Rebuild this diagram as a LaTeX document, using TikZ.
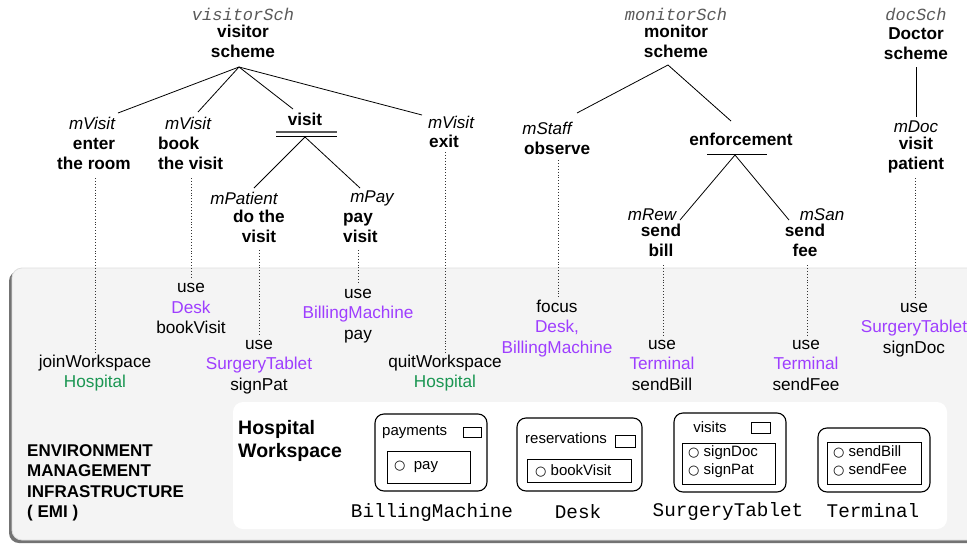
\documentclass[tikz,border=0pt]{standalone}
\usepackage{fontspec}
\setmainfont{Liberation Sans}
\setmonofont{Liberation Mono}
\newfontfamily\symf{DejaVu Sans}
\definecolor{artc}{RGB}{158,62,255}
\definecolor{wsc}{RGB}{26,150,82}
\definecolor{emibg}{RGB}{244,244,244}
\definecolor{emibd}{RGB}{222,222,222}
\definecolor{schc}{RGB}{90,90,90}
\newcommand\cir{{\symf\fontsize{13}{12}\selectfont ○}}
\newcommand\art[1]{\textcolor{artc}{#1}}
\newcommand\wsp[1]{\textcolor{wsc}{#1}}
\tikzset{
  goal/.style={font=\fontsize{17.2}{20}\selectfont\bfseries, align=center, inner sep=0pt},
  goall/.style={goal, align=left},
  mis/.style={font=\fontsize{17}{20}\selectfont\itshape, inner sep=0pt},
  sch/.style={font=\fontsize{17}{20}\selectfont\ttfamily\itshape, text=schc, inner sep=0pt},
  act/.style={font=\fontsize{17.2}{20.5}\selectfont, align=center, inner sep=0pt},
  emit/.style={font=\fontsize{17}{20.5}\selectfont\bfseries, align=left, inner sep=0pt},
  wst/.style={font=\fontsize{19.5}{23}\selectfont\bfseries, align=left, inner sep=0pt},
  artn/.style={font=\fontsize{19.3}{22}\selectfont\ttfamily, inner sep=0pt},
  itm/.style={font=\fontsize{15}{18}\selectfont, align=left, inner sep=0pt},
  tree/.style={line width=0.8pt, black},
  dots/.style={line width=0.9pt, dotted, black!80},
  artbox/.style={draw=black, line width=1.1pt, rounded corners=9pt},
  opbox/.style={draw=black, line width=1pt},
  propbox/.style={draw=black, line width=0.9pt},
}
\begin{document}
\begin{tikzpicture}[x=1pt,y=-1pt]
\useasboundingbox (0,0) rectangle (967,544);
\fill[white] (0,0) rectangle (967,544);
% EMI background
\fill[black!55, rounded corners=10pt] (9,271) rectangle (985,543);
\filldraw[fill=emibg, draw=emibd, line width=0.8pt, rounded corners=10pt] (12,268) rectangle (985,540);
\fill[white, rounded corners=10pt] (233,402) rectangle (947,529);

% ---------- visitor scheme ----------
\node[sch] (vsch) at (243,14) {visitorSch};
\node[goal] (vroot) at (243,43) {\strut visitor\\\strut scheme};
\coordinate (vr) at (239,67);
\node[mis] (m1) at (92,123) {mVisit};
\node[goal] (enter) at (94,155.5) {\strut enter\\\strut the room};
\coordinate (e1) at (118,113);
\node[mis] (m2) at (188,123) {mVisit};
\node[goall, anchor=west] (book) at (158,155.5) {\strut book\\\strut the visit};
\coordinate (e2) at (198,112);
\node[goal] (visit) at (305,119) {visit};
\coordinate (e3) at (293,109);
\coordinate (vl1) at (276,132); \coordinate (vl2) at (337,132);
\coordinate (vl3) at (276,136); \coordinate (vl4) at (337,136);
\coordinate (vs) at (305,137);
\node[mis] (m3) at (451,122) {mVisit};
\node[goall, anchor=west] (exit) at (429,141) {exit};
\coordinate (e4) at (422,115);
\node[mis] (m4) at (244,198) {mPatient};
\node[goal] (dothe) at (259,228) {\strut do the\\\strut visit};
\coordinate (e5) at (254,188);
\node[mis] (m5) at (372,198) {mPay};
\node[goall, anchor=west] (payv) at (343,228) {\strut pay\\\strut visit};
\coordinate (e6) at (360,188);

\draw[tree] (vr) -- (e1);
\draw[tree] (vr) -- (e2);
\draw[tree] (vr) -- (e3);
\draw[tree] (vr) -- (e4);
\draw[line width=1.6pt, black!65] (vl1) -- (vl2);
\draw[tree] (vl3) -- (vl4);
\draw[tree] (vs) -- (e5);
\draw[tree] (vs) -- (e6);

% ---------- monitor scheme ----------
\node[sch] (msch) at (676,14) {monitorSch};
\node[goal] (mroot) at (676,43) {\strut monitor\\\strut scheme};
\coordinate (mr) at (668,65);
\coordinate (f1) at (577,113);
\coordinate (f2) at (731,121);
\node[mis] (m6) at (547,128) {mStaff};
\node[goall, anchor=west] (observe) at (524,148) {observe};
\node[goal] (enf) at (741,139) {enforcement};
\coordinate (el1) at (707,154); \coordinate (el2) at (767,154);
\coordinate (es) at (735,155);
\coordinate (f3) at (680,220);
\coordinate (f4) at (789,220);
\node[mis] (m7) at (652,215) {mRew};
\node[goal] (sbill) at (661,242) {\strut send\\\strut bill};
\node[mis] (m8) at (822,215) {mSan};
\node[goal] (sfee) at (805,242) {\strut send\\\strut fee};
\draw[tree] (mr) -- (f1);
\draw[tree] (mr) -- (f2);
\draw[tree] (el1) -- (el2);
\draw[tree] (es) -- (f3);
\draw[tree] (es) -- (f4);

% ---------- doctor scheme ----------
\node[sch] (dsch) at (916,14) {docSch};
\node[goal] (droot) at (916,45) {\strut Doctor\\\strut scheme};
\node[mis] (m9) at (916,127) {mDoc};
\node[goal] (vpat) at (916,155) {\strut visit\\\strut patient};
\coordinate (dr1) at (916,67);
\coordinate (dr2) at (916,117);
\draw[tree] (dr1) -- (dr2);

% ---------- actions in EMI ----------
\node[act] (join) at (95,373.5) {\strut joinWorkspace\\\strut \wsp{Hospital}};
\node[act] (usedesk) at (191,309) {\strut use\\\strut \art{Desk}\\\strut bookVisit};
\node[act] (usest) at (259,365.5) {\strut use\\\strut \art{SurgeryTablet}\\\strut signPat};
\node[act] (usebm) at (358,314.5) {\strut use\\\strut \art{BillingMachine}\\\strut pay};
\node[act] (quit) at (445,373.5) {\strut quitWorkspace\\\strut \wsp{Hospital}};
\node[act] (focus) at (557,328.5) {\strut focus\\\strut \art{Desk,}\\\strut \art{BillingMachine}};
\node[act] (uset1) at (662,365.5) {\strut use\\\strut \art{Terminal}\\\strut sendBill};
\node[act] (uset2) at (806,365.5) {\strut use\\\strut \art{Terminal}\\\strut sendFee};
\node[act] (usest2) at (914,328.5) {\strut use\\\strut \art{SurgeryTablet}\\\strut signDoc};

\coordinate (d1a) at (95,178);  \coordinate (d1b) at (95,353);
\coordinate (d2a) at (191,178); \coordinate (d2b) at (191,278);
\coordinate (d3a) at (259,250); \coordinate (d3b) at (259,335);
\coordinate (d4a) at (358,250); \coordinate (d4b) at (358,283);
\coordinate (d5a) at (445,152); \coordinate (d5b) at (445,353);
\coordinate (d6a) at (558,160); \coordinate (d6b) at (558,298);
\coordinate (d7a) at (663,265); \coordinate (d7b) at (663,335);
\coordinate (d8a) at (807,265); \coordinate (d8b) at (807,335);
\coordinate (d9a) at (915,178); \coordinate (d9b) at (915,298);
\foreach \i in {1,...,9} \draw[dots] (d\i a) -- (d\i b);

% ---------- EMI labels ----------
\node[emit, anchor=west] (emi) at (27,483) {\strut ENVIRONMENT\\\strut MANAGEMENT\\\strut INFRASTRUCTURE\\\strut ( EMI )};
\node[wst, anchor=west] (hws) at (238,441.5) {\strut Hospital\\\strut Workspace};

% ---------- artifacts ----------
% BillingMachine
\draw[artbox] (375,414) rectangle (487,491);
\node[itm, anchor=west] (bmp) at (382,432) {payments};
\draw[propbox] (463,427) rectangle (481,437);
\draw[opbox] (387,451) rectangle (470,483);
\node[itm, anchor=west] (bmo) at (394,467) {\cir\ \ pay};
\node[artn] (bmn) at (432,512) {BillingMachine};
% Desk
\draw[artbox] (517,418) rectangle (642,491);
\node[itm, anchor=west] (dkp) at (525,438) {reservations};
\draw[propbox] (615,435) rectangle (635,447);
\draw[opbox] (527,459) rectangle (631,482);
\node[itm, anchor=west] (dko) at (535,471) {\cir\ bookVisit};
\node[artn] (dkn) at (578,512) {Desk};
% SurgeryTablet
\draw[artbox] (674,413) rectangle (786,492);
\node[itm] (stp) at (710,427) {visits};
\draw[propbox] (751,422) rectangle (770,433);
\draw[opbox] (682,443) rectangle (775,484);
\node[itm, anchor=west] (sto) at (688,462) {\strut\cir\ signDoc\\\strut\cir\ signPat};
\node[artn] (stn) at (728,512) {SurgeryTablet};
% Terminal
\draw[artbox] (818,428) rectangle (930,492);
\draw[opbox] (827,442) rectangle (921,484);
\node[itm, anchor=west] (tmo) at (833,462) {\strut\cir\ sendBill\\\strut\cir\ sendFee};
\node[artn] (tmn) at (873,511) {Terminal};
\end{tikzpicture}
\end{document}
